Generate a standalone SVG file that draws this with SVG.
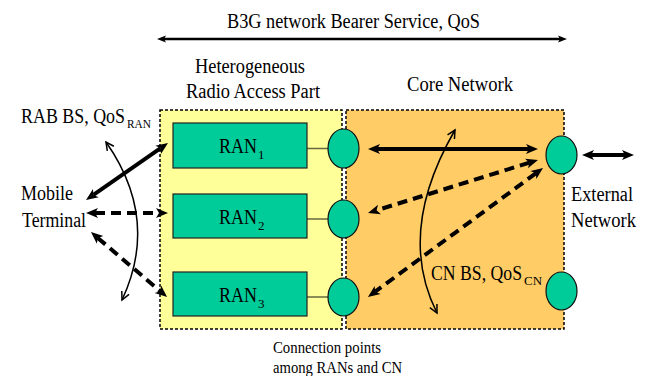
<svg xmlns="http://www.w3.org/2000/svg" width="646" height="376" viewBox="0 0 646 376" font-family="Liberation Serif, DejaVu Serif, serif">
<defs>
<style>
text{font-family:'Liberation Serif','DejaVu Serif',serif;fill:#000}
.t20{font-size:20px}
.sub{font-size:13px}
.small{font-size:16px}
.area{stroke:#000;stroke-width:1.5;stroke-dasharray:3 2}
.ran{fill:#00CC99;stroke:#222;stroke-width:1.2}
.cp{fill:#00CC99;stroke:#111;stroke-width:1.2}
.link{stroke:#666640;stroke-width:1.5}
.thick{stroke:#000;stroke-width:4;fill:none}
.dash{stroke-dasharray:10 6}
.thin{stroke:#000;stroke-width:1.5;fill:none}
</style>
<marker id="ah" markerUnits="userSpaceOnUse" markerWidth="12" markerHeight="10" refX="3" refY="5" orient="auto-start-reverse" overflow="visible">
<path d="M0,0 L12,5 L0,10 L3,5 z" fill="#000"/>
</marker>
<marker id="ahs" markerUnits="userSpaceOnUse" markerWidth="9" markerHeight="7" refX="2" refY="3.5" orient="auto-start-reverse" overflow="visible">
<path d="M0,0 L9,3.5 L0,7 L2,3.5 z" fill="#000"/>
</marker>
<marker id="av" markerUnits="userSpaceOnUse" markerWidth="9" markerHeight="8" refX="8" refY="4" orient="auto-start-reverse" overflow="visible">
<path d="M0,0 L8,4 L0,8" fill="none" stroke="#000" stroke-width="1.5"/>
</marker>
</defs>
<rect width="646" height="376" fill="#fff"/>

<g id="radio-access-part">
<rect class="area" x="160" y="110" width="182" height="219" fill="#FFFF99"/>
<text class="t20" x="195" y="73" textLength="110" lengthAdjust="spacingAndGlyphs">Heterogeneous</text>
<text class="t20" x="186" y="98" textLength="134" lengthAdjust="spacingAndGlyphs">Radio Access Part</text>
</g>
<g id="core-network">
<rect class="area" x="346" y="110" width="218" height="219" fill="#FFCC66"/>
<text class="t20" x="407" y="91" textLength="106" lengthAdjust="spacingAndGlyphs">Core Network</text>
</g>

<g id="connectors">
<line class="link" x1="307" y1="148.5" x2="328" y2="148.5"/>
<line class="link" x1="307" y1="219" x2="328" y2="219"/>
<line class="link" x1="307" y1="297" x2="328" y2="297"/>
<line x1="164" y1="39" x2="560" y2="39" stroke="#000" stroke-width="2.5" marker-start="url(#ahs)" marker-end="url(#ahs)"/>
<line class="thick" x1="93.4" y1="194.9" x2="160.6" y2="148.1" marker-start="url(#ah)" marker-end="url(#ah)"/>
<line class="thick dash" x1="95" y1="213" x2="159" y2="213" marker-start="url(#ah)" marker-end="url(#ah)"/>
<line class="thick dash" x1="97.8" y1="237.9" x2="160.2" y2="291.2" marker-start="url(#ah)" marker-end="url(#ah)"/>
<path class="thin" d="M106,142 Q160,219 122,300" marker-start="url(#av)" marker-end="url(#av)"/>
<line class="thick" x1="377" y1="149" x2="529" y2="149" marker-start="url(#ah)" marker-end="url(#ah)"/>
<line class="thick dash" x1="529.4" y1="162.7" x2="376.6" y2="210.3" marker-start="url(#ah)" marker-end="url(#ah)"/>
<line class="thick dash" x1="535.8" y1="173.3" x2="375.2" y2="291.7" marker-start="url(#ah)" marker-end="url(#ah)"/>
<path class="thin" d="M455,130 Q396,232 437,313" marker-start="url(#av)" marker-end="url(#av)"/>
<line class="thick" x1="591" y1="155" x2="625" y2="155" marker-start="url(#ah)" marker-end="url(#ah)"/>
</g>

<g id="title">
<text class="t20" x="227" y="28" textLength="253" lengthAdjust="spacingAndGlyphs">B3G network Bearer Service, QoS</text>
</g>

<g id="rab-label">
<text class="t20" x="21" y="123"><tspan textLength="104" lengthAdjust="spacingAndGlyphs">RAB BS, QoS</tspan><tspan class="sub" dx="2" dy="5" textLength="24" lengthAdjust="spacingAndGlyphs">RAN</tspan></text>
</g>

<g id="mobile-terminal">
<text class="t20" x="21" y="200" textLength="52" lengthAdjust="spacingAndGlyphs">Mobile</text>
<text class="t20" x="22" y="227" textLength="64" lengthAdjust="spacingAndGlyphs">Terminal</text>
</g>

<g id="ran1">
<rect class="ran" x="173" y="123" width="134" height="45"/>
<text class="t20" x="219" y="153"><tspan textLength="38" lengthAdjust="spacingAndGlyphs">RAN</tspan><tspan class="sub" dx="1" dy="6">1</tspan></text>
</g>
<g id="ran2">
<rect class="ran" x="173" y="194" width="134" height="44"/>
<text class="t20" x="219" y="224"><tspan textLength="38" lengthAdjust="spacingAndGlyphs">RAN</tspan><tspan class="sub" dx="1" dy="6">2</tspan></text>
</g>
<g id="ran3">
<rect class="ran" x="173" y="272" width="134" height="44"/>
<text class="t20" x="219" y="302"><tspan textLength="38" lengthAdjust="spacingAndGlyphs">RAN</tspan><tspan class="sub" dx="1" dy="6">3</tspan></text>
</g>

<g id="cp1"><ellipse class="cp" cx="343.5" cy="148.5" rx="15.5" ry="19.5"/></g>
<g id="cp2"><ellipse class="cp" cx="343.5" cy="219" rx="15.5" ry="19"/></g>
<g id="cp3"><ellipse class="cp" cx="343.5" cy="297" rx="15.5" ry="19"/></g>
<g id="cn-gw1"><ellipse class="cp" cx="561.5" cy="155" rx="15.5" ry="19"/></g>
<g id="cn-gw2"><ellipse class="cp" cx="561.5" cy="291" rx="15.5" ry="19"/></g>

<g id="cn-label">
<text class="t20" x="431" y="280"><tspan textLength="91" lengthAdjust="spacingAndGlyphs">CN BS, QoS</tspan><tspan class="sub" dx="2" dy="5" textLength="18" lengthAdjust="spacingAndGlyphs">CN</tspan></text>
</g>

<g id="external-network">
<text class="t20" x="571" y="201" textLength="62" lengthAdjust="spacingAndGlyphs">External</text>
<text class="t20" x="571" y="227" textLength="65" lengthAdjust="spacingAndGlyphs">Network</text>
</g>

<g id="connection-points-label">
<text class="small" x="273" y="353" textLength="108" lengthAdjust="spacingAndGlyphs">Connection points</text>
<text class="small" x="273" y="373" textLength="129" lengthAdjust="spacingAndGlyphs">among RANs and CN</text>
</g>
</svg>
